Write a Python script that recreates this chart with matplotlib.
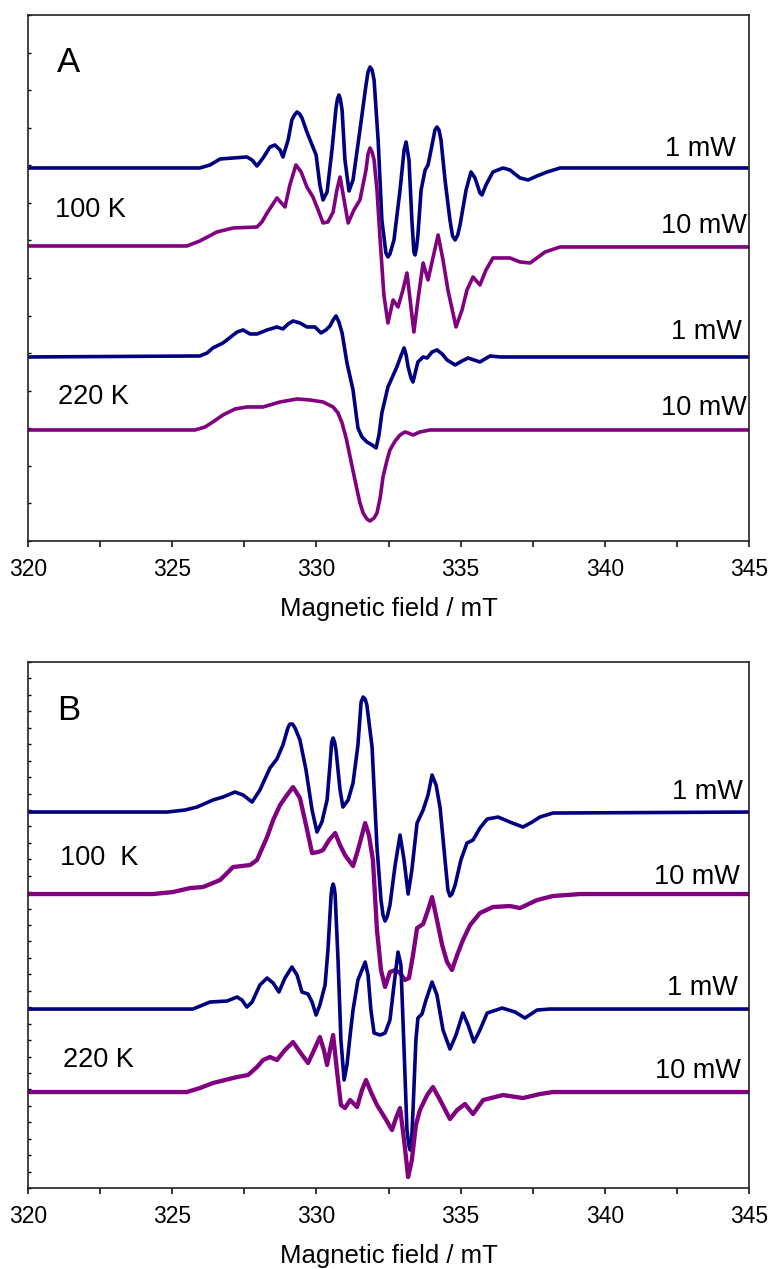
import numpy as np
import matplotlib.pyplot as plt
from matplotlib.ticker import MultipleLocator, FixedLocator

plt.rcParams['font.family'] = ['Liberation Sans', 'DejaVu Sans']

NAVY = '#000080'
PURPLE = '#800080'

# ---- panel A : field (mT) / intensity (a.u., relative to each trace baseline)
a100_1mw_field = [320.00, 325.96, 326.31, 326.66, 327.59, 327.77, 327.94, 328.15, 328.39, 328.56,
                  328.74, 328.84, 329.02, 329.15, 329.24, 329.33, 329.42, 329.50, 329.67, 329.85,
                  329.99, 330.12, 330.23, 330.37, 330.54, 330.68, 330.73, 330.78, 330.83, 330.89,
                  330.99, 331.13, 331.27, 331.51, 331.72, 331.79, 331.86, 331.93, 332.00, 332.14,
                  332.27, 332.41, 332.48, 332.55, 332.69, 332.90, 333.04, 333.11, 333.21, 333.31,
                  333.38, 333.42, 333.47, 333.52, 333.63, 333.77, 333.87, 334.01, 334.11, 334.18,
                  334.25, 334.32, 334.46, 334.63, 334.72, 334.81, 334.90, 334.98, 335.19, 335.36,
                  335.50, 335.67, 335.74, 335.88, 336.12, 336.47, 336.71, 337.06, 337.34, 337.65,
                  338.00, 338.45, 345.00]
a100_1mw_int = [0, 0, 3, 9, 11, 8, 2, 10, 21, 23,
                18, 11, 28, 48, 53, 56, 54, 50, 36, 23,
                13, -17, -32, -24, 18, 60, 69, 73, 69, 58,
                8, -23, -12, 38, 83, 96, 101, 98, 88, 28,
                -52, -85, -89, -86, -72, -22, 18, 26, 8, -52,
                -84, -87, -80, -67, -22, -2, 3, 23, 38, 41,
                38, 28, -12, -52, -68, -72, -67, -57, -22, -4,
                -10, -25, -27, -17, -4, 0, -2, -10, -12, -8,
                -4, 0, 0]

a100_10mw_field = [320.00, 325.51, 325.96, 326.55, 327.11, 327.94, 328.11, 328.29, 328.63, 328.91,
                   329.08, 329.29, 329.47, 329.67, 329.88, 330.06, 330.23, 330.40, 330.58, 330.71,
                   330.82, 330.96, 331.10, 331.30, 331.51, 331.72, 331.79, 331.86, 331.93, 332.00,
                   332.10, 332.21, 332.34, 332.48, 332.66, 332.83, 333.00, 333.14, 333.25, 333.38,
                   333.52, 333.70, 333.87, 334.04, 334.22, 334.39, 334.56, 334.84, 335.05, 335.22,
                   335.43, 335.67, 335.88, 336.12, 336.71, 337.06, 337.41, 337.93, 338.45, 345.00]
a100_10mw_int = [1, 1, 6, 15, 19, 20, 25, 34, 49, 40,
                 62, 82, 75, 60, 50, 37, 24, 25, 35, 57,
                 70, 47, 24, 37, 47, 77, 93, 99, 95, 87,
                 57, 7, -48, -76, -53, -60, -43, -26, -53, -85,
                 -53, -16, -33, -11, 12, -13, -43, -80, -63, -43,
                 -30, -38, -23, -11, -11, -15, -16, -5, 0, 0]

a220_1mw_field = [320.00, 325.96, 326.21, 326.41, 326.76, 327.25, 327.46, 327.70, 327.94, 328.29,
                  328.63, 328.84, 329.02, 329.19, 329.43, 329.67, 329.95, 330.16, 330.33, 330.47,
                  330.58, 330.68, 330.78, 330.89, 331.06, 331.27, 331.44, 331.58, 331.75, 331.93,
                  332.07, 332.17, 332.27, 332.48, 332.79, 332.93, 333.04, 333.11, 333.18, 333.28,
                  333.35, 333.45, 333.52, 333.70, 333.84, 334.01, 334.18, 334.36, 334.53, 334.81,
                  335.05, 335.26, 335.46, 335.67, 336.02, 336.37, 345.00]
a220_1mw_int = [0, 1, 4, 9, 14, 25, 27, 23, 23, 27,
                30, 28, 33, 36, 34, 30, 30, 24, 27, 31,
                37, 41, 35, 24, -6, -33, -71, -80, -85, -88,
                -91, -78, -56, -30, -10, 1, 9, 2, -10, -21,
                -25, -13, -5, 0, -1, 5, 7, 3, -3, -8,
                -4, -1, -3, -5, 1, 0, 0]

a220_10mw_field = [320.00, 325.79, 326.14, 326.41, 326.76, 327.18, 327.59, 328.15, 328.74, 329.33,
                   329.78, 330.23, 330.58, 330.75, 330.89, 331.03, 331.17, 331.30, 331.41, 331.51,
                   331.62, 331.75, 331.86, 332.00, 332.10, 332.21, 332.31, 332.45, 332.55, 332.73,
                   332.90, 333.07, 333.18, 333.35, 333.59, 333.94, 345.00]
a220_10mw_int = [0, 0, 3, 8, 15, 21, 23, 23, 28, 31,
                 30, 28, 23, 17, 7, -8, -27, -45, -60, -73,
                 -83, -89, -91, -88, -83, -68, -47, -30, -20, -11,
                 -5, -2, -3, -5, -2, 0, 0]

# ---- panel B
b100_1mw_field = [320.00, 324.82, 325.44, 325.86, 326.41, 326.76, 327.18, 327.46, 327.77, 328.04,
                  328.39, 328.63, 328.84, 329.01, 329.08, 329.17, 329.26, 329.43, 329.64, 329.85,
                  330.02, 330.19, 330.37, 330.47, 330.53, 330.58, 330.63, 330.68, 330.82, 330.92,
                  331.10, 331.27, 331.44, 331.55, 331.62, 331.69, 331.75, 331.93, 332.10, 332.24,
                  332.31, 332.38, 332.46, 332.55, 332.73, 332.90, 333.04, 333.18, 333.31, 333.49,
                  333.70, 333.87, 334.01, 334.15, 334.29, 334.46, 334.56, 334.63, 334.70, 334.81,
                  335.01, 335.22, 335.43, 335.67, 335.92, 336.30, 336.71, 337.16, 337.48, 337.75,
                  338.20, 345.00]
b100_1mw_int = [0, 0, 2, 5, 12, 15, 20, 17, 10, 22,
                44, 53, 67, 84, 88, 88, 84, 72, 42, 2,
                -20, -10, 12, 47, 70, 74, 70, 62, 22, 5,
                12, 29, 67, 110, 115, 113, 107, 65, -35, -88,
                -103, -109, -104, -93, -53, -23, -48, -82, -58, -11,
                2, 17, 37, 27, 4, -48, -78, -84, -82, -73,
                -48, -31, -28, -16, -7, -5, -10, -15, -10, -5,
                -1, 0]

b100_10mw_field = [320.00, 324.33, 325.03, 325.62, 326.07, 326.66, 327.11, 327.70, 327.94, 328.29,
                   328.50, 328.74, 328.98, 329.19, 329.43, 329.64, 329.85, 330.06, 330.23, 330.44,
                   330.65, 330.82, 330.99, 331.27, 331.44, 331.69, 331.82, 331.96, 332.10, 332.24,
                   332.38, 332.55, 332.73, 332.90, 333.07, 333.21, 333.35, 333.49, 333.70, 333.87,
                   334.01, 334.18, 334.36, 334.53, 334.70, 334.88, 335.08, 335.33, 335.67, 336.12,
                   336.71, 337.06, 337.65, 338.20, 339.14, 345.00]
b100_10mw_int = [0, 0, 2, 6, 7, 14, 27, 29, 34, 57,
                 74, 89, 99, 107, 96, 69, 41, 42, 44, 54,
                 61, 49, 39, 28, 44, 71, 59, 34, -36, -76,
                 -93, -78, -76, -79, -86, -84, -61, -34, -30, -16,
                 -3, -26, -51, -68, -76, -61, -46, -31, -19, -13,
                 -12, -14, -6, -2, 0, 0]

b220_1mw_field = [320.00, 325.72, 326.31, 326.90, 327.25, 327.42, 327.59, 327.77, 328.04, 328.29,
                  328.50, 328.70, 328.91, 329.15, 329.33, 329.50, 329.71, 329.85, 329.99, 330.12,
                  330.30, 330.40, 330.51, 330.54, 330.58, 330.62, 330.65, 330.75, 330.85, 330.96,
                  331.06, 331.17, 331.27, 331.44, 331.69, 331.79, 331.89, 332.00, 332.21, 332.38,
                  332.55, 332.69, 332.83, 332.93, 333.04, 333.14, 333.21, 333.25, 333.30, 333.35,
                  333.45, 333.52, 333.66, 333.80, 334.01, 334.18, 334.39, 334.63, 334.84, 335.08,
                  335.26, 335.46, 335.67, 335.92, 336.44, 336.89, 337.23, 337.65, 338.10, 345.00]
b220_1mw_int = [0, 0, 7, 8, 12, 9, 2, 7, 24, 31,
                26, 17, 31, 42, 34, 17, 15, 7, -6, 4,
                24, 59, 114, 121, 125, 121, 114, 49, -31, -71,
                -56, -26, -1, 29, 47, 34, -1, -24, -26, -24,
                -11, 24, 57, 44, -41, -121, -137, -141, -132, -101,
                -31, -9, -5, 9, 27, 14, -21, -40, -26, -4,
                -16, -33, -21, -4, 1, -3, -9, -1, 0, 0]

b220_10mw_field = [320.00, 325.51, 325.96, 326.41, 327.25, 327.63, 327.94, 328.15, 328.39, 328.63,
                   328.91, 329.19, 329.43, 329.71, 329.92, 330.12, 330.26, 330.37, 330.47, 330.58,
                   330.71, 330.85, 330.99, 331.17, 331.41, 331.58, 331.72, 331.89, 332.10, 332.38,
                   332.62, 332.76, 332.90, 333.04, 333.18, 333.31, 333.45, 333.59, 333.84, 334.04,
                   334.29, 334.63, 334.88, 335.15, 335.43, 335.78, 336.47, 337.16, 337.75, 338.20,
                   345.00]
b220_10mw_int = [0, 0, 4, 9, 15, 17, 25, 32, 35, 32,
                 42, 50, 40, 29, 42, 55, 42, 27, 42, 57,
                 22, -13, -16, -8, -15, 2, 12, 0, -13, -26,
                 -38, -26, -16, -48, -85, -68, -33, -18, -3, 5,
                 -8, -27, -18, -12, -22, -8, -3, -6, -2, 0,
                 0]

# vertical stacking of the traces (a.u. above the x axis)
offsets_a = [373, 294, 184, 111]
offsets_b = [376, 294, 179, 96]

traces_a = [(a100_1mw_field, a100_1mw_int, NAVY),
            (a100_10mw_field, a100_10mw_int, PURPLE),
            (a220_1mw_field, a220_1mw_int, NAVY),
            (a220_10mw_field, a220_10mw_int, PURPLE)]
traces_b = [(b100_1mw_field, b100_1mw_int, NAVY),
            (b100_10mw_field, b100_10mw_int, PURPLE),
            (b220_1mw_field, b220_1mw_int, NAVY),
            (b220_10mw_field, b220_10mw_int, PURPLE)]

fig = plt.figure(figsize=(7.71, 12.69), dpi=100)
ax_a = fig.add_axes([0.0363, 0.5737, 0.9352, 0.4145])
ax_b = fig.add_axes([0.0363, 0.0638, 0.9352, 0.4145])

YTOP = 526


def style_axes(ax, n_yticks):
    ax.set_xlim(320, 345)
    ax.set_ylim(0, YTOP)
    ax.xaxis.set_major_locator(MultipleLocator(5))
    ax.xaxis.set_minor_locator(MultipleLocator(2.5))
    ax.yaxis.set_major_locator(FixedLocator(np.linspace(0, YTOP, n_yticks + 1)))
    ax.tick_params(axis='x', which='both', direction='out', length=4.5, width=1.1,
                   labelsize=16.5, pad=8, top=False)
    ax.tick_params(axis='y', which='both', direction='in', length=2.5, width=1.0,
                   labelleft=False, right=False)
    for s in ax.spines.values():
        s.set_linewidth(1.2)
        s.set_color('#222222')
    ax.set_xlabel('Magnetic field / mT', fontsize=18.5, labelpad=11)


def draw(ax, traces, offsets, lw_noisy):
    for (b, y, c), off in zip(traces, offsets):
        lw = lw_noisy if c == PURPLE else 2.6
        ax.plot(b, np.array(y) + off, color=c, lw=lw, solid_joinstyle='round',
                solid_capstyle='round')


draw(ax_a, traces_a, offsets_a, 2.6)
draw(ax_b, traces_b, offsets_b, 3.1)
style_axes(ax_a, 14)
style_axes(ax_b, 32)

LBL = 19.5

# panel A annotations
ax_a.text(321.0, 478, 'A', fontsize=25, ha='left', va='center')
ax_a.text(320.94, 331, '100 K', fontsize=LBL, ha='left', va='center')
ax_a.text(321.04, 144, '220 K', fontsize=LBL, ha='left', va='center')
ax_a.text(344.55, 392, '1 mW', fontsize=LBL, ha='right', va='center')
ax_a.text(344.93, 315, '10 mW', fontsize=LBL, ha='right', va='center')
ax_a.text(344.76, 209, '1 mW', fontsize=LBL, ha='right', va='center')
ax_a.text(344.93, 133, '10 mW', fontsize=LBL, ha='right', va='center')

# panel B annotations
ax_b.text(321.0, 478, 'B', fontsize=25, ha='left', va='center')
ax_b.text(321.11, 330, '100  K', fontsize=LBL, ha='left', va='center')
ax_b.text(321.21, 128, '220 K', fontsize=LBL, ha='left', va='center')
ax_b.text(344.79, 396, '1 mW', fontsize=LBL, ha='right', va='center')
ax_b.text(344.69, 311, '10 mW', fontsize=LBL, ha='right', va='center')
ax_b.text(344.62, 200, '1 mW', fontsize=LBL, ha='right', va='center')
ax_b.text(344.72, 117, '10 mW', fontsize=LBL, ha='right', va='center')

fig.savefig('out.png', dpi=100)
